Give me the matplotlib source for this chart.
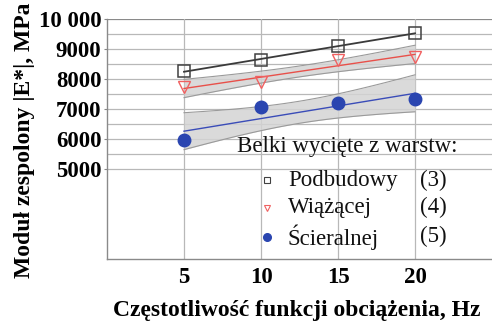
import numpy as np
import matplotlib.pyplot as plt

plt.rcParams['font.family'] = ['Liberation Serif', 'DejaVu Serif']
SERIF = ['Liberation Serif', 'DejaVu Serif']

# Frequency [Hz] and dynamic modulus |E*| [MPa] of beams cut from each layer
freq = np.array([5, 10, 15, 20])
e_podbudowy = np.array([8260, 8640, 9100, 9530])
e_wiazacej = np.array([7730, 7900, 8630, 8750])
e_scieralnej = np.array([5970, 7070, 7200, 7330])

yticks = [5000, 6000, 7000, 8000, 9000, 10000]
yticklabels = ["5000", "6000", "7000", "8000", "9000", "10 000"]
xticks = [5, 10, 15, 20]

legend_title = "Belki wycięte z warstw:"
names = ["Podbudowy", "Wiążącej", "Ścieralnej"]
numbers = ["(3)", "(4)", "(5)"]


def fit_band(x, y, xx, z=1.96):
    n = len(x)
    xbar, ybar = x.mean(), y.mean()
    a = np.sum((x - xbar) * (y - ybar)) / np.sum((x - xbar) ** 2)
    b = ybar - a * xbar
    res = y - (a * x + b)
    se = np.sqrt(np.sum(res ** 2) / (n - 2))
    half = z * se * np.sqrt(1.0 / n + (xx - xbar) ** 2 / np.sum((x - xbar) ** 2))
    return a * xx + b, half


fig = plt.figure(figsize=(4.92, 3.25), dpi=100)
ax = fig.add_axes([0.2175, 0.203, 0.7825, 0.7385])
ax.set_xlim(0, 25)
ax.set_ylim(2000, 10000)

# grid: horizontal lines only over the labelled range
for yy in np.arange(5000, 10001, 500):
    col = "#8a8a8a" if yy == 10000 else "#b8b8b8"
    ax.axhline(yy, color=col, lw=0.9, zorder=0)
for xv in xticks:
    ax.axvline(xv, color="#b8b8b8", lw=0.9, zorder=0)

xx = np.linspace(5, 20, 100)

# Podbudowy
fit, _ = fit_band(freq, e_podbudowy, xx)
ax.plot(xx, fit, color="#3a3a3a", lw=1.3, zorder=3)
ax.plot(freq, e_podbudowy, ls="none", marker="s", ms=8, mfc="none",
        mec="#404040", mew=1.1, zorder=4)

# Wiazacej
fit, half = fit_band(freq, e_wiazacej, xx)
ax.fill_between(xx, fit - half, fit + half, color="#d4d4d4", alpha=0.85,
                lw=0, zorder=1)
ax.plot(xx, fit - half, color="#9a9a9a", lw=0.8, zorder=2)
ax.plot(xx, fit + half, color="#9a9a9a", lw=0.8, zorder=2)
ax.plot(xx, fit, color="#e8504a", lw=1.0, zorder=3)
ax.plot(freq, e_wiazacej, ls="none", marker="v", ms=8, mfc="none",
        mec="#f06060", mew=1.0, zorder=4)

# Scieralnej
fit, half = fit_band(freq, e_scieralnej, xx)
ax.fill_between(xx, fit - half, fit + half, color="#d4d4d4", alpha=0.85,
                lw=0, zorder=1)
ax.plot(xx, fit - half, color="#9a9a9a", lw=0.8, zorder=2)
ax.plot(xx, fit + half, color="#9a9a9a", lw=0.8, zorder=2)
ax.plot(xx, fit, color="#3a4cb8", lw=1.0, zorder=3)
ax.plot(freq, e_scieralnej, ls="none", marker="o", ms=9, mfc="#2a45b0",
        mec="#2a45b0", zorder=4)

ax.set_yticks(yticks)
ax.set_yticklabels(yticklabels, fontsize=16.5, fontweight="bold", family=SERIF)
ax.set_xticks(xticks)
ax.set_xticklabels([str(v) for v in xticks], fontsize=16.5, fontweight="bold",
                   family=SERIF)
ax.tick_params(axis="y", length=2, width=0.8, color="#888888", pad=2)
ax.tick_params(axis="x", length=0, pad=6)

for s in ["top", "right"]:
    ax.spines[s].set_visible(False)
for s in ["left", "bottom"]:
    ax.spines[s].set_color("#8a8a8a")
    ax.spines[s].set_linewidth(1.0)

# legend drawn by hand, no frame
ax.text(0.338, 0.467, legend_title, transform=ax.transAxes, fontsize=16.5,
        va="center", ha="left", color="#111111", family=SERIF)
lx, tx, nx = 0.416, 0.47, 0.813
ly = [0.329, 0.214, 0.092]
styles = [dict(marker="s", ms=5, mfc="none", mec="#404040", mew=0.8),
          dict(marker="v", ms=5, mfc="none", mec="#f06060", mew=0.8),
          dict(marker="o", ms=5.5, mfc="#2a45b0", mec="#2a45b0")]
for yl, name, num, st in zip(ly, names, numbers, styles):
    ax.plot([lx], [yl], ls="none", transform=ax.transAxes, clip_on=False,
            zorder=5, **st)
    ax.text(tx, yl, name, transform=ax.transAxes, fontsize=16.5,
            va="center", ha="left", color="#111111", family=SERIF)
    ax.text(nx, yl, num, transform=ax.transAxes, fontsize=16.5,
            va="center", ha="left", color="#111111", family=SERIF)

fig.text(0.05, 0.57, "Moduł zespolony |E*|, MPa", rotation=90, fontsize=17,
         fontweight="bold", ha="center", va="center", family=SERIF)
fig.text(0.604, 0.046, "Częstotliwość funkcji obciążenia, Hz", fontsize=17,
         fontweight="bold", ha="center", va="center", family=SERIF)

fig.savefig("out.png", dpi=100)
